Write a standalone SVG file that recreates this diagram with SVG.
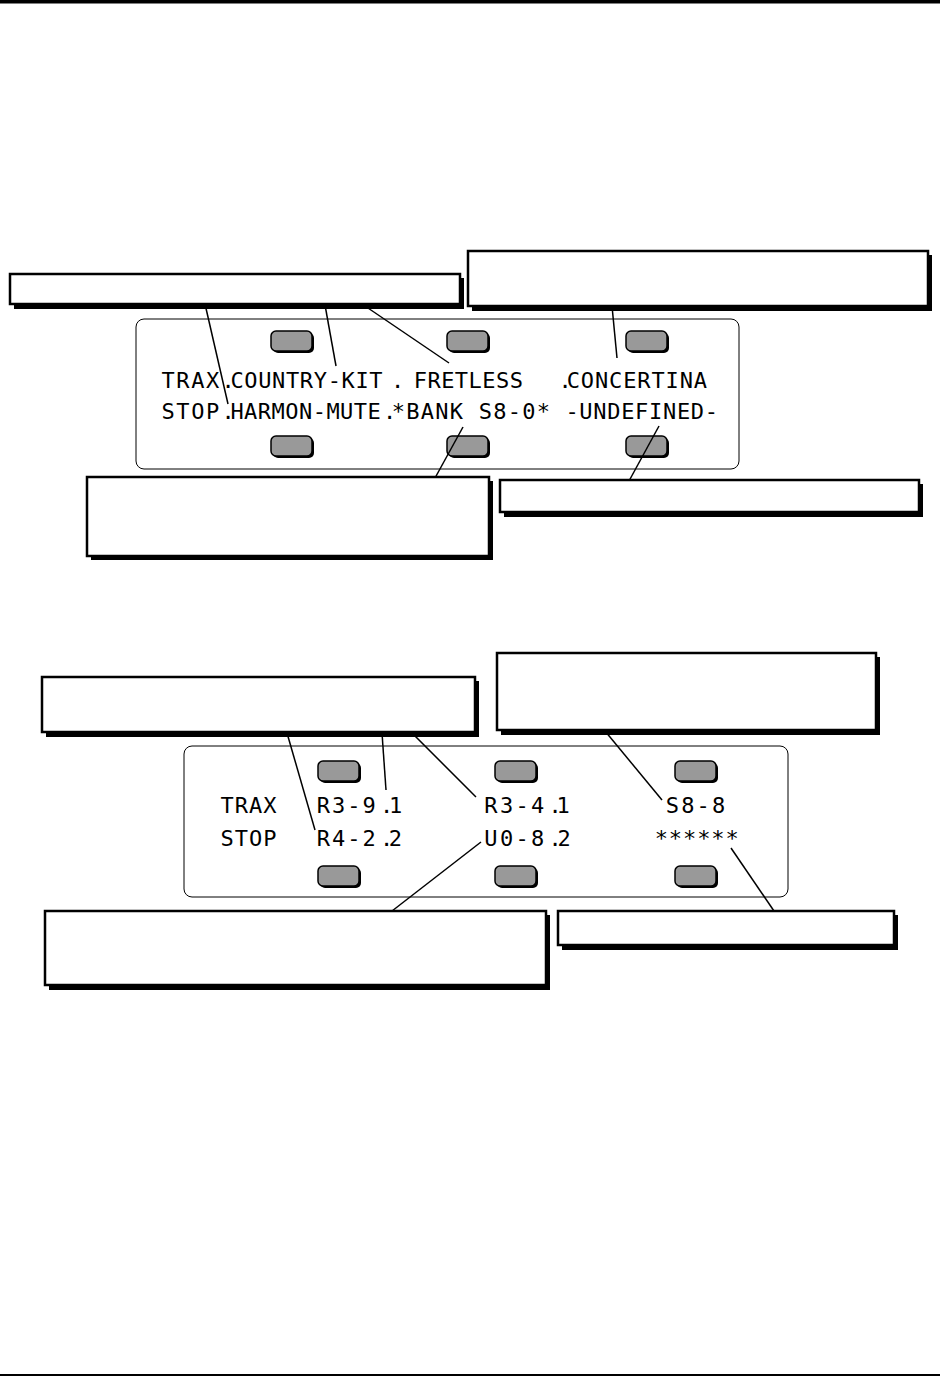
<svg xmlns="http://www.w3.org/2000/svg" width="940" height="1376" viewBox="0 0 940 1376">
<defs>
<style>
.bg{fill:#ffffff}
.shadow{fill:#000000}
.callout{fill:#ffffff;stroke:#000000;stroke-width:2.5}
.panel{fill:#ffffff;stroke:#000000;stroke-width:1}
.btn{fill:#999999;stroke:#000000;stroke-width:1.5}
.btnsh{fill:#000000}
.lcd{font-family:"DejaVu Sans Mono","Liberation Mono",monospace;font-size:22px;fill:#000000}
.conn line{stroke:#000000;stroke-width:1.5;fill:none}
</style>
</defs>
<rect class="bg" x="0" y="0" width="940" height="1376"/>
<rect x="0" y="0" width="940" height="3.5" fill="#000"/>
<rect x="0" y="1374" width="940" height="2" fill="#000"/>

<!-- Panel 1 -->
<g id="panel1">
<rect class="panel" x="136" y="319" width="603" height="150" rx="8"/>
<g id="p1-buttons">
<rect class="btnsh" x="273" y="333" width="41" height="20" rx="5"/><rect class="btn" x="271" y="331" width="41" height="20" rx="5"/>
<rect class="btnsh" x="449" y="333" width="41" height="20" rx="5"/><rect class="btn" x="447" y="331" width="41" height="20" rx="5"/>
<rect class="btnsh" x="628" y="333" width="41" height="20" rx="5"/><rect class="btn" x="626" y="331" width="41" height="20" rx="5"/>
<rect class="btnsh" x="273" y="438" width="41" height="20" rx="5"/><rect class="btn" x="271" y="436" width="41" height="20" rx="5"/>
<rect class="btnsh" x="449" y="438" width="41" height="20" rx="5"/><rect class="btn" x="447" y="436" width="41" height="20" rx="5"/>
<rect class="btnsh" x="628" y="438" width="41" height="20" rx="5"/><rect class="btn" x="626" y="436" width="41" height="20" rx="5"/>
</g>
<g id="p1-text" class="lcd">
<text x="161.4" y="388" textLength="57.9" lengthAdjust="spacing">TRAX</text>
<text x="221.4 230.4" y="388" letter-spacing="0.65">.COUNTRY-KIT</text>
<text x="390.9" y="388">.</text>
<text x="413.7" y="388" textLength="109.3" lengthAdjust="spacing">FRETLESS</text>
<text x="558.4 566.7" y="388" letter-spacing="0.88">.CONCERTINA</text>
<text x="161.4" y="418.5" textLength="57.9" lengthAdjust="spacing">STOP</text>
<text x="221.4 230.4" y="418.5" letter-spacing="0.47">.HARMON-MUTE</text>
<text x="382.9 391.7" y="418.5" letter-spacing="1.26">.*BANK S8-0*</text>
<text x="565.4" y="418.5" textLength="152.6" lengthAdjust="spacing">-UNDEFINED-</text>
</g>
</g>

<!-- Panel 2 -->
<g id="panel2">
<rect class="panel" x="184" y="746" width="604" height="151" rx="8"/>
<g id="p2-buttons">
<rect class="btnsh" x="320" y="763" width="41" height="20" rx="5"/><rect class="btn" x="318" y="761" width="41" height="20" rx="5"/>
<rect class="btnsh" x="497" y="763" width="41" height="20" rx="5"/><rect class="btn" x="495" y="761" width="41" height="20" rx="5"/>
<rect class="btnsh" x="677" y="763" width="41" height="20" rx="5"/><rect class="btn" x="675" y="761" width="41" height="20" rx="5"/>
<rect class="btnsh" x="320" y="868" width="41" height="20" rx="5"/><rect class="btn" x="318" y="866" width="41" height="20" rx="5"/>
<rect class="btnsh" x="497" y="868" width="41" height="20" rx="5"/><rect class="btn" x="495" y="866" width="41" height="20" rx="5"/>
<rect class="btnsh" x="677" y="868" width="41" height="20" rx="5"/><rect class="btn" x="675" y="866" width="41" height="20" rx="5"/>
</g>
<g id="p2-text" class="lcd">
<text x="220.4" y="813" textLength="56.1" lengthAdjust="spacing">TRAX</text>
<text x="316.7" y="813" textLength="59" lengthAdjust="spacing">R3-9</text>
<text x="379.9 388.9" y="813">.1</text>
<text x="484.3" y="813" textLength="60" lengthAdjust="spacing">R3-4</text>
<text x="548.4 556.4" y="813">.1</text>
<text x="665.7" y="813" textLength="59.6" lengthAdjust="spacing">S8-8</text>
<text x="220.4" y="846" textLength="56.1" lengthAdjust="spacing">STOP</text>
<text x="316.7" y="846" textLength="59" lengthAdjust="spacing">R4-2</text>
<text x="379.9 388.7" y="846">.2</text>
<text x="484.3" y="846" textLength="60" lengthAdjust="spacing">U0-8</text>
<text x="548.4 557.4" y="846">.2</text>
<text x="654.7" y="846" textLength="84" lengthAdjust="spacing">******</text>
</g>
</g>

<!-- Connectors -->
<g id="connectors" class="conn">
<line x1="205" y1="304" x2="228" y2="404"/>
<line x1="325" y1="305" x2="336" y2="366"/>
<line x1="365" y1="306" x2="449" y2="363"/>
<line x1="612" y1="306" x2="617" y2="358"/>
<line x1="463" y1="427" x2="435" y2="478"/>
<line x1="659" y1="426" x2="629" y2="481"/>
<line x1="287" y1="733" x2="315" y2="830"/>
<line x1="382" y1="733" x2="386" y2="790"/>
<line x1="412" y1="733" x2="476" y2="797"/>
<line x1="605" y1="731" x2="662" y2="800"/>
<line x1="481" y1="842" x2="392" y2="911"/>
<line x1="731" y1="848" x2="774" y2="911"/>
</g>

<!-- Callout boxes -->
<g id="callout-a"><rect class="shadow" x="14" y="278" width="450" height="31"/><rect class="callout" x="10" y="274" width="450" height="30"/></g>
<g id="callout-b"><rect class="shadow" x="472" y="255" width="460" height="56"/><rect class="callout" x="468" y="251" width="460" height="55"/></g>
<g id="callout-c"><rect class="shadow" x="91" y="481" width="402" height="79"/><rect class="callout" x="87" y="477" width="402" height="79"/></g>
<g id="callout-d"><rect class="shadow" x="504" y="484" width="419" height="33"/><rect class="callout" x="500" y="480" width="419" height="32"/></g>
<g id="callout-e"><rect class="shadow" x="46" y="681" width="433" height="56"/><rect class="callout" x="42" y="677" width="433" height="55"/></g>
<g id="callout-f"><rect class="shadow" x="501" y="657" width="379" height="78"/><rect class="callout" x="497" y="653" width="379" height="77"/></g>
<g id="callout-g"><rect class="shadow" x="49" y="915" width="501" height="75"/><rect class="callout" x="45" y="911" width="501" height="74"/></g>
<g id="callout-h"><rect class="shadow" x="562" y="915" width="336" height="35"/><rect class="callout" x="558" y="911" width="336" height="34"/></g>
</svg>
